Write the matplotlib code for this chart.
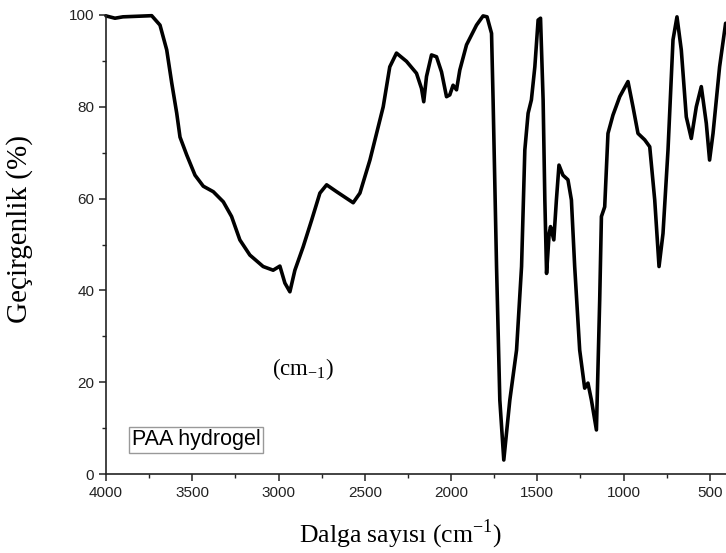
import matplotlib
matplotlib.use("Agg")
import matplotlib.pyplot as plt
from matplotlib.ticker import MultipleLocator

# FTIR spektrumu: dalga sayısı (cm-1) ve geçirgenlik (%)
wavenumber = [4000, 3948, 3902, 3735, 3687, 3648, 3619, 3590, 3571, 3532,
              3484, 3436, 3378, 3320, 3272, 3224, 3166, 3089, 3031, 2992,
              2963, 2934, 2905, 2857, 2808, 2760, 2721, 2663, 2567, 2528,
              2470, 2393, 2355, 2316, 2258, 2200, 2171, 2158, 2142, 2113,
              2084, 2055, 2026, 2007, 1988, 1968, 1949, 1910, 1852, 1814,
              1791, 1765, 1756, 1736, 1717, 1694, 1659, 1620, 1591, 1572,
              1553, 1534, 1514, 1495, 1481, 1466, 1456, 1446, 1431, 1423,
              1404, 1389, 1374, 1351, 1322, 1302, 1283, 1254, 1225, 1206,
              1186, 1157, 1138, 1128, 1109, 1090, 1061, 1022, 974, 945,
              916, 877, 848, 819, 794, 771, 742, 713, 690, 665,
              636, 607, 578, 549, 520, 501, 481, 443, 408]
transmittance = [99.8, 99.3, 99.6, 99.85, 97.8, 92.4, 85.2, 78.6, 73.4, 69.5,
                 65.1, 62.7, 61.5, 59.3, 56.1, 51.0, 47.7, 45.2, 44.4, 45.3,
                 41.6, 39.7, 44.4, 49.5, 55.3, 61.2, 63.0, 61.5, 59.1, 61.2,
                 68.4, 80.0, 88.7, 91.7, 89.9, 87.3, 84.0, 81.1, 86.6, 91.3,
                 90.9, 87.6, 82.2, 82.6, 84.7, 83.7, 88.0, 93.5, 97.8, 99.8,
                 99.6, 96.0, 81.5, 45.2, 16.1, 3.05, 16.1, 27.0, 45.2, 70.6,
                 78.6, 81.5, 88.7, 98.9, 99.3, 81.5, 59.7, 43.7, 52.4, 53.9,
                 51.0, 59.7, 67.3, 65.1, 64.1, 59.7, 45.2, 27.0, 18.7, 19.8,
                 16.1, 9.6, 37.9, 56.1, 58.2, 74.2, 78.2, 82.2, 85.5, 80.0,
                 74.2, 72.8, 71.3, 59.7, 45.2, 52.4, 70.6, 94.6, 99.6, 92.4,
                 77.8, 73.1, 80.0, 84.4, 76.4, 68.4, 74.2, 88.7, 98.2]

x_ticks = [4000, 3500, 3000, 2500, 2000, 1500, 1000, 500]
y_ticks = [0, 20, 40, 60, 80, 100]

fig = plt.figure(figsize=(7.26, 5.53), dpi=100)
ax = fig.add_axes([106 / 726, 1 - 474 / 553, 621 / 726, 459 / 553])

ax.plot(wavenumber, transmittance, color="black", lw=2.6,
        solid_joinstyle="round", solid_capstyle="round", clip_on=False)

ax.set_xlim(4000, 400)
ax.set_ylim(0, 100)
ax.set_xticks(x_ticks)
ax.set_yticks(y_ticks)
ax.xaxis.set_minor_locator(MultipleLocator(250))
ax.yaxis.set_minor_locator(MultipleLocator(10))

for side in ["top", "right"]:
    ax.spines[side].set_visible(False)
for side in ["left", "bottom"]:
    ax.spines[side].set_linewidth(1.2)
    ax.spines[side].set_color("#222222")

ax.tick_params(which="major", direction="out", length=5, width=1.1,
               labelsize=11, colors="#222222")
ax.tick_params(which="minor", direction="out", length=3, width=1.0,
               colors="#222222")
for lab in ax.get_xticklabels() + ax.get_yticklabels():
    lab.set_family("Liberation Sans")

# eksen başlıkları (Times benzeri)
fig.text(20 / 726, 1 - 229 / 553, "Geçirgenlik (%)", rotation=90,
         ha="center", va="center", family="Liberation Serif", fontsize=21)
fig.text(400 / 726, 1 - 534 / 553, r"Dalga sayısı (cm$^{\mathregular{-1}}$)",
         ha="center", va="center", family="Liberation Serif", fontsize=18.5)
fig.text(303 / 726, 1 - 369 / 553, r"(cm$_{\mathregular{-1}}$)",
         ha="center", va="center", family="Liberation Serif", fontsize=16.5)

fig.text(196 / 726, 1 - 440 / 553, "PAA hydrogel", ha="center", va="center",
         family="Liberation Sans", fontsize=15.5,
         bbox=dict(boxstyle="square,pad=0.1", fc="white", ec="#999999", lw=1))

fig.savefig("out.png", dpi=100)
